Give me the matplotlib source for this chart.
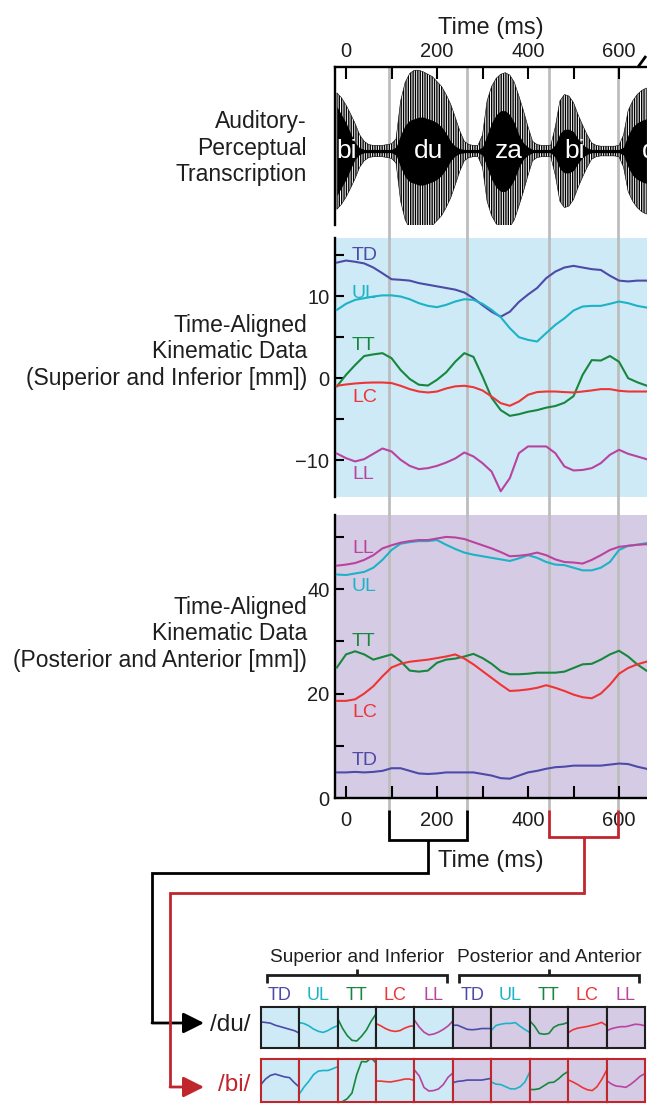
import numpy as np
import matplotlib.pyplot as plt
from matplotlib.lines import Line2D
from matplotlib.patches import FancyArrowPatch

plt.rcParams['font.family'] = ['Liberation Sans', 'DejaVu Sans']
plt.rcParams['hatch.linewidth'] = 1.0

# kinematic samples every 20 ms
time_ms = list(range(-20, 661, 20))

# superior / inferior (mm)
si_td = [14.1, 14.35, 14.2, 14.0, 13.5, 12.8, 12.07, 12.0, 11.9, 11.6, 11.4, 11.2, 11.0, 10.8, 10.45, 9.75, 8.9, 8.1,
         7.5, 8.1, 9.3, 10.2, 11.0, 12.2, 13.0, 13.5, 13.7, 13.5, 13.3, 13.2, 12.5, 11.9, 11.8, 11.9, 11.9]
si_ul = [8.33, 9.07, 9.55, 9.76, 9.96, 10.1, 10.1, 9.96, 9.63, 9.15, 8.82, 8.66, 8.94, 9.35, 9.63, 9.55, 9.07, 8.33,
         7.44, 6.1, 5.0, 4.67, 4.47, 5.5, 6.5, 7.3, 8.25, 8.74, 8.82, 8.82, 9.07, 9.35, 9.15, 8.82, 8.62]
si_tt = [-1.0, 0.4, 1.6, 2.7, 2.9, 3.05, 2.44, 1.0, -0.1, -0.8, -0.9, -0.2, 0.7, 2.0, 3.05, 2.6, 0.2, -2.4,
         -3.9, -4.6, -4.4, -4.1, -3.9, -3.6, -3.4, -3.0, -2.2, 0.4, 2.2, 2.15, 2.7, 2.0, 0.0, -0.5, -0.9]
si_lc = [-0.93, -0.77, -0.65, -0.57, -0.53, -0.53, -0.6, -0.93, -1.34, -1.63, -1.75, -1.63, -1.26, -1.0, -0.93,
         -1.1, -1.5, -2.24, -3.05, -3.37, -2.85, -2.03, -1.7, -1.63, -1.63, -1.7, -1.75, -1.63, -1.5, -1.34,
         -1.34, -1.54, -1.63, -1.63, -1.63]
si_ll = [-9.2, -9.76, -10.16, -9.88, -9.23, -8.58, -8.94, -9.96, -10.7, -11.1, -10.98, -10.7, -10.3, -9.8, -9.07,
         -9.55, -10.37, -11.4, -13.8, -12.2, -9.15, -8.33, -8.33, -8.33, -9.15, -10.77, -11.26, -11.2, -10.98,
         -10.37, -9.35, -8.74, -9.23, -9.55, -9.88]

# posterior / anterior (mm)
pa_td = [4.9, 4.9, 5.0, 4.9, 5.0, 5.2, 5.7, 5.7, 5.2, 4.7, 4.6, 4.7, 4.9, 4.9, 4.9, 4.9, 4.6, 4.3, 3.8, 3.7,
         4.3, 4.9, 5.2, 5.6, 5.9, 6.0, 6.2, 6.2, 6.2, 6.2, 6.4, 6.6, 6.5, 6.0, 5.6]
pa_ul = [42.8, 42.7, 43.0, 43.3, 44.1, 45.6, 47.5, 48.7, 49.0, 49.2, 49.2, 49.4, 48.5, 47.7, 47.0, 46.6, 46.3,
         46.0, 45.7, 45.4, 45.9, 46.5, 46.0, 45.2, 44.7, 44.6, 44.1, 43.6, 43.6, 44.1, 45.2, 47.5, 48.3, 48.5, 48.8]
pa_tt = [25.0, 27.5, 28.1, 27.5, 26.5, 27.0, 27.5, 26.2, 24.4, 24.2, 24.4, 25.9, 26.5, 26.7, 27.1, 27.6, 26.8,
         25.7, 24.3, 23.7, 23.7, 23.8, 24.0, 24.0, 24.0, 24.2, 24.9, 25.6, 25.7, 26.5, 27.5, 28.2, 27.1, 25.6, 24.4]
pa_lc = [18.6, 18.6, 18.9, 20.0, 21.4, 23.3, 25.0, 25.7, 26.1, 26.3, 26.5, 26.8, 27.1, 27.5, 26.7, 25.6, 24.3,
         23.0, 21.7, 20.5, 20.6, 20.8, 21.1, 21.6, 21.1, 20.5, 19.8, 19.3, 19.1, 20.0, 21.7, 23.8, 24.9, 25.6, 26.1]
pa_ll = [44.5, 44.7, 45.0, 45.6, 46.5, 47.8, 48.4, 48.9, 49.2, 49.4, 49.4, 49.7, 50.0, 49.9, 49.6, 49.0, 48.4,
         47.8, 47.1, 46.3, 46.4, 46.6, 47.0, 46.5, 45.7, 45.2, 45.1, 44.9, 45.6, 46.5, 47.5, 48.1, 48.3, 48.5, 48.6]

# audio envelope every 10 ms (relative amplitude)
env_t = list(range(-20, 661, 10))
env_amp = [0.72, 0.66, 0.57, 0.46, 0.34, 0.2, 0.12, 0.08, 0.07, 0.07, 0.07, 0.08, 0.09, 0.15, 0.62, 0.85, 0.96,
           1.0, 1.0, 0.98, 0.95, 0.92, 0.86, 0.8, 0.7, 0.58, 0.42, 0.25, 0.12, 0.08, 0.07, 0.07, 0.2, 0.62, 0.8,
           0.9, 0.95, 0.97, 0.94, 0.85, 0.68, 0.5, 0.3, 0.12, 0.08, 0.07, 0.07, 0.07, 0.3, 0.62, 0.7, 0.68, 0.6,
           0.45, 0.32, 0.2, 0.1, 0.07, 0.06, 0.06, 0.06, 0.06, 0.07, 0.2, 0.5, 0.62, 0.7, 0.75, 0.78]
env_core = [0.55, 0.45, 0.35, 0.22, 0.1, 0.04, 0.02, 0.02, 0.02, 0.02, 0.02, 0.02, 0.02, 0.05, 0.2, 0.32, 0.38,
            0.4, 0.42, 0.42, 0.4, 0.38, 0.35, 0.3, 0.22, 0.12, 0.06, 0.03, 0.02, 0.02, 0.02, 0.02, 0.05, 0.2,
            0.35, 0.45, 0.5, 0.5, 0.45, 0.35, 0.2, 0.1, 0.05, 0.02, 0.02, 0.02, 0.02, 0.02, 0.08, 0.22, 0.27, 0.27,
            0.24, 0.15, 0.08, 0.04, 0.02, 0.02, 0.02, 0.02, 0.02, 0.02, 0.02, 0.05, 0.2, 0.3, 0.35, 0.38, 0.4]

syllables = ['bi', 'du', 'za', 'bi', 'da']
syllable_t = [2, 182, 358, 503, 651]
boundaries = [95, 266, 446, 598]
du_win = (95, 266)
bi_win = (446, 598)

names = ['TD', 'UL', 'TT', 'LC', 'LL']
si_traces = [si_td, si_ul, si_tt, si_lc, si_ll]
pa_traces = [pa_td, pa_ul, pa_tt, pa_lc, pa_ll]
colors = {'TD': '#4d4aa8', 'UL': '#1db3c6', 'TT': '#17873d', 'LC': '#ee3535', 'LL': '#b9449f'}

blue_bg = '#cdeaf6'
purple_bg = '#d6cbe5'
grey = '#bdbdbd'
dark_red = '#c0272d'
ink = '#1e1e1e'

W, H = 647, 1114
fig = plt.figure(figsize=(W / 100, H / 100), dpi=100)


def px_axes(l, t, r, b):
    return fig.add_axes([l / W, 1 - b / H, (r - l) / W, (b - t) / H])


def fx(px):
    return px / W


def fy(py):
    return 1 - py / H


def fig_line(xs, ys, color, lw=2.0):
    fig.add_artist(Line2D([fx(x) for x in xs], [fy(y) for y in ys], color=color, lw=lw,
                          transform=fig.transFigure, solid_capstyle='butt', solid_joinstyle='miter'))


def fig_arrow(x0, x1, y, color):
    fig.add_artist(FancyArrowPatch((fx(x0), fy(y)), (fx(x1), fy(y)), transform=fig.transFigure,
                                   arrowstyle='-|>,head_length=0.7,head_width=0.35', mutation_scale=18,
                                   color=color, lw=2, shrinkA=0, shrinkB=0))


def style(ax, shown):
    for s in ['top', 'bottom', 'left', 'right']:
        ax.spines[s].set_visible(s in shown)
        ax.spines[s].set_linewidth(1.7)
    ax.set_xlim(-24.2, 661.5)


ax_wav = px_axes(335, 67, 647, 225)
ax_si = px_axes(335, 238, 647, 497)
ax_pa = px_axes(335, 515, 647, 798)

# waveform panel: striped envelope with a solid core
style(ax_wav, ['top', 'left'])
ax_wav.fill_between(env_t, -np.array(env_amp), env_amp, facecolor='white', edgecolor='black',
                    hatch='|' * 7, lw=0.4, zorder=2)
ax_wav.fill_between(env_t, -np.array(env_core), env_core, color='black', lw=0, zorder=2.5)
ax_wav.set_ylim(-0.915, 1.04)
ax_wav.set_yticks([])
ax_wav.xaxis.tick_top()
ax_wav.xaxis.set_label_position('top')
for s, t in zip(syllables, syllable_t):
    ax_wav.text(t, 0, s, color='white', fontsize=19, ha='left' if s == syllables[-1] else 'center',
                va='center', zorder=4)
ax_wav.set_xlabel('Time (ms)', fontsize=17, labelpad=6, color=ink)

# kinematic panels
style(ax_si, ['left'])
ax_si.set_facecolor(blue_bg)
ax_si.set_ylim(-14.5, 17.1)
ax_si.set_xticks([])
ax_si.set_yticks([-10, 0, 10])
ax_si.set_yticks([-5, 5, 15], minor=True)

style(ax_pa, ['left', 'bottom'])
ax_pa.set_facecolor(purple_bg)
ax_pa.set_ylim(0, 54.2)
ax_pa.set_yticks([0, 20, 40])
ax_pa.set_yticks([10, 30, 50], minor=True)
ax_pa.set_xlabel('Time (ms)', fontsize=17, labelpad=15, color=ink)

for ax in (ax_wav, ax_pa):
    ax.set_xticks([0, 200, 400, 600])
    ax.set_xticks([100, 300, 500], minor=True)
    ax.tick_params(axis='x', which='both', direction='in', length=8.5, width=1.5, labelsize=14.5,
                   labelcolor=ink)
ax_wav.tick_params(axis='x', pad=4)
ax_pa.tick_params(axis='x', pad=9)
for ax in (ax_si, ax_pa):
    ax.tick_params(axis='y', which='both', direction='in', length=6.5, width=1.5, labelsize=14.5, pad=4,
                   labelcolor=ink)

# grey segment lines running through the panels
for ax, ymin in ((ax_wav, -0.09), (ax_si, -0.075), (ax_pa, -0.045)):
    for b in boundaries:
        ax.axvline(b, ymin=ymin, ymax=1, color=grey, lw=2, zorder=1, clip_on=False)

label_y_si = [15.0, 10.3, 4.0, -2.4, -11.8]
label_y_pa = [7.1, 40.5, 30.0, 16.3, 47.8]
for name, vals, ly in zip(names, si_traces, label_y_si):
    ax_si.plot(time_ms, vals, color=colors[name], lw=1.5, zorder=3)
    ax_si.text(13, ly, name, color=colors[name], fontsize=14, va='center', ha='left')
for name, vals, ly in zip(names, pa_traces, label_y_pa):
    ax_pa.plot(time_ms, vals, color=colors[name], lw=1.5, zorder=3)
    ax_pa.text(13, ly, name, color=colors[name], fontsize=14, va='center', ha='left')

# left-hand panel titles
fig.text(fx(307), fy(148), 'Auditory-\nPerceptual\nTranscription', ha='right', va='center', fontsize=16.5,
         linespacing=1.2, color=ink)
fig.text(fx(307), fy(352), 'Time-Aligned\nKinematic Data\n(Superior and Inferior [mm])', ha='right',
         va='center', fontsize=16.5, linespacing=1.2, color=ink)
fig.text(fx(307), fy(634), 'Time-Aligned\nKinematic Data\n(Posterior and Anterior [mm])', ha='right',
         va='center', fontsize=16.5, linespacing=1.2, color=ink)

# cut mark at the right end of the top axis
fig_line([638, 646], [67, 56], 'black')

# brackets leading to the zoomed segments
fig.canvas.draw()


def data_px(t):
    return ax_pa.transData.transform((t, 0))[0]


l, r = data_px(du_win[0]), data_px(du_win[1])
m = (l + r) / 2
fig_line([l, l, r, r], [810, 840, 840, 810], 'black')
fig_line([m, m, 152, 152], [840, 873, 873, 1023], 'black')
fig_arrow(152, 204, 1023, 'black')

l, r = data_px(bi_win[0]), data_px(bi_win[1])
m = (l + r) / 2
fig_line([l, l, r, r], [810, 837, 837, 810], dark_red)
fig_line([m, m, 170, 170], [837, 893, 893, 1087], dark_red)
fig_arrow(170, 204, 1087, dark_red)

fig.text(fx(250), fy(1025), '/du/', ha='right', va='center', fontsize=17.5, color=ink)
fig.text(fx(250), fy(1085), '/bi/', ha='right', va='center', fontsize=17.5, color=dark_red)

# small multiples of each segment
col_w = 38.43
x0 = 260.7
tarr = np.array(time_ms)
rows = [(du_win, 1007, 1048, ink), (bi_win, 1059, 1102, dark_red)]
groups = [(si_traces, blue_bg, 3.0), (pa_traces, purple_bg, 5.0)]
for win, top, bot, edge in rows:
    mask = (tarr >= win[0] - 10) & (tarr <= win[1] + 10)
    col = 0
    for traces, bg, half in groups:
        for name, vals in zip(names, traces):
            left = x0 + col * col_w
            ax = px_axes(left, top, left + col_w, bot)
            ax.set_facecolor(bg)
            seg = np.array(vals)[mask]
            ax.plot(tarr[mask], seg, color=colors[name], lw=1.2)
            ax.set_xlim(tarr[mask][0], tarr[mask][-1])
            c = (seg.min() + seg.max()) / 2
            ax.set_ylim(c - half, c + half)
            ax.set_xticks([])
            ax.set_yticks([])
            for sp in ax.spines.values():
                sp.set_color(edge)
                sp.set_linewidth(1.5)
            col += 1

col = 0
for traces, bg, half in groups:
    for name in names:
        fig.text(fx(x0 + (col + 0.5) * col_w), fy(995), name, color=colors[name], ha='center', va='center',
                 fontsize=13)
        col += 1

for i, title in enumerate(['Superior and Inferior', 'Posterior and Anterior']):
    gl = x0 + i * 5 * col_w
    gr = gl + 5 * col_w
    gc = (gl + gr) / 2
    fig.text(fx(gc), fy(958), title, ha='center', va='center', fontsize=13.8, color=ink)
    fig_line([gl + 6, gl + 6, gr - 6, gr - 6], [983, 975, 975, 983], ink)
    fig_line([gc, gc], [975, 969], ink)

fig.savefig('out.png', dpi=100)
